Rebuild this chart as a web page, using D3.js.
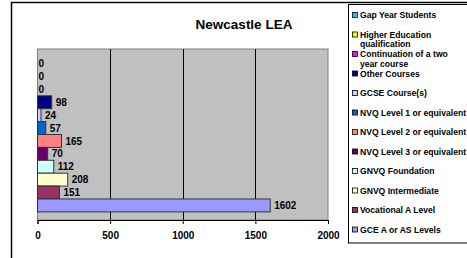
<!DOCTYPE html>
<html>
<head>
<meta charset="utf-8">
<script src="https://cdn.jsdelivr.net/npm/d3@7"></script>
<style>
  body { margin: 0; background: #fff; }
  svg { display: block; font-family: Arial, "Liberation Sans", sans-serif; }
</style>
</head>
<body>
<div id="chart"></div>
<script>
const width = 467;
const height = 258;

// data, top bar first (matches legend order)
const categories = [
    "Gap Year Students",
    "Higher Education qualification",
    "Continuation of a two year course",
    "Other Courses",
    "GCSE Course(s)",
    "NVQ Level 1 or equivalent",
    "NVQ Level 2 or equivalent",
    "NVQ Level 3 or equivalent",
    "GNVQ Foundation",
    "GNVQ Intermediate",
    "Vocational A Level",
    "GCE A or AS Levels"
];
const values = [0, 0, 0, 98, 24, 57, 165, 70, 112, 208, 151, 1602];
const colors = ["#00CCFF", "#FFFF00", "#FF00FF", "#000080", "#CCCCFF", "#0066CC",
    "#FF8080", "#660066", "#CCFFFF", "#FFFFCC", "#993366", "#9999FF"];
const xTicks = [0, 500, 1000, 1500, 2000];

const plot = { left: 37.5, right: 328, top: 49, bottom: 220 };

const svg = d3.select("#chart").append("svg")
    .attr("width", width)
    .attr("height", height);

// outer chart border
svg.append("rect")
    .attr("x", 11.5).attr("y", 2.5)
    .attr("width", 480).attr("height", 280)
    .attr("fill", "#fff").attr("stroke", "#000").attr("stroke-width", 1.5);

svg.append("text")
    .attr("x", 244).attr("y", 29)
    .attr("text-anchor", "middle")
    .attr("font-size", 13.5).attr("font-weight", "bold")
    .text("Newcastle LEA");

const x = d3.scaleLinear().domain([0, 2000]).range([plot.left, plot.right]);
const y = d3.scaleBand().domain(categories).range([plot.top, plot.bottom])
    .paddingInner(0).paddingOuter(0.63);

// plot background
svg.append("rect")
    .attr("x", plot.left).attr("y", plot.top)
    .attr("width", plot.right - plot.left).attr("height", plot.bottom - plot.top)
    .attr("fill", "#C0C0C0").attr("stroke", "#808080");

// gridlines
svg.append("g").selectAll("line")
    .data(xTicks.slice(1, -1))
    .enter().append("line")
    .attr("x1", d => Math.round(x(d)) + 0.5).attr("x2", d => Math.round(x(d)) + 0.5)
    .attr("y1", plot.top).attr("y2", plot.bottom)
    .attr("stroke", "#000");

// bars
svg.append("g").selectAll("rect")
    .data(categories)
    .enter().append("rect")
    .attr("x", plot.left)
    .attr("y", d => y(d))
    .attr("width", (d, i) => x(values[i]) - plot.left)
    .attr("height", y.bandwidth())
    .attr("fill", (d, i) => colors[i])
    .attr("stroke", "#333")
    .attr("stroke-width", 1)
    .attr("display", (d, i) => values[i] > 0 ? null : "none");

// value labels
svg.append("g").selectAll("text")
    .data(categories)
    .enter().append("text")
    .attr("x", (d, i) => x(values[i]) + (values[i] > 0 ? 4 : 1))
    .attr("y", d => y(d) + y.bandwidth() / 2)
    .attr("dy", "0.36em")
    .attr("font-size", 10).attr("font-weight", "bold")
    .text((d, i) => values[i]);

// x axis
const xAxis = svg.append("g")
    .attr("transform", `translate(0,${plot.bottom})`)
    .call(d3.axisBottom(x).tickValues(xTicks).tickFormat(d3.format("d"))
        .tickSize(4).tickPadding(8));
xAxis.select(".domain").attr("stroke", "#000");
xAxis.selectAll(".tick line").attr("stroke", "#000");
xAxis.selectAll("text")
    .attr("font-size", 10).attr("font-weight", "bold")
    .attr("font-family", "Arial, 'Liberation Sans', sans-serif")
    .attr("fill", "#000");

// legend
const legend = svg.append("g");
legend.append("rect")
    .attr("x", 348.5).attr("y", 4.5)
    .attr("width", 130).attr("height", 238.5)
    .attr("fill", "#fff").attr("stroke", "#000");

let ly = 15;
categories.forEach((name, i) => {
    legend.append("rect")
        .attr("x", 352.5).attr("y", ly - 2.5)
        .attr("width", 5).attr("height", 5)
        .attr("fill", colors[i]).attr("stroke", "#000").attr("stroke-width", 0.8);
    const t = legend.append("text")
        .attr("x", 360).attr("y", ly)
        .attr("dy", "0.35em")
        .attr("font-size", 8.6).attr("font-weight", "bold");
    // simple word wrap
    const words = name.split(" ");
    let line = [];
    let lines = 1;
    let ts = t.append("tspan").attr("x", 360);
    words.forEach(w => {
        line.push(w);
        ts.text(line.join(" "));
        if (ts.node().getComputedTextLength() > 107 && line.length > 1) {
            line.pop();
            ts.text(line.join(" "));
            line = [w];
            lines++;
            ts = t.append("tspan").attr("x", 360).attr("dy", 9.6).text(w);
        }
    });
    ly += Math.max(19.5, lines * 9.6);
});
</script>
</body>
</html>
